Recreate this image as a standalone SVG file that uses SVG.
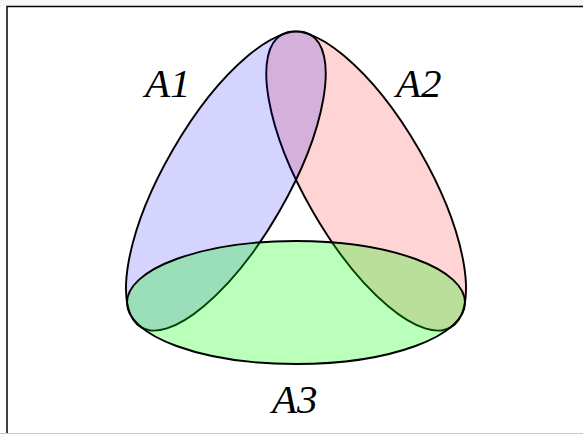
<svg xmlns="http://www.w3.org/2000/svg" width="583" height="434" viewBox="0 0 583 434">
<style>
.set{stroke:#000;stroke-width:1.9}
.lbl{font-family:"Liberation Serif","Times New Roman",serif;font-style:italic;font-size:41px;fill:#000}
</style>
<rect x="0" y="0" width="583" height="434" fill="#fff"/>
<rect x="0" y="0" width="583" height="6" fill="#f6f6f6"/>
<path d="M7,434 V6.5 H583" fill="none" stroke="#000" stroke-width="1.5"/>
<line x1="0" y1="433.5" x2="583" y2="433.5" stroke="#c8c8c8" stroke-width="1"/>
<g id="A2">
<ellipse class="set" cx="296" cy="302.5" rx="169" ry="61.5" transform="rotate(-120 296 221.5)" fill="rgb(255,0,0)" fill-opacity="0.17"/>
<text class="lbl" x="396" y="97">A2</text>
</g>
<g id="A1">
<ellipse class="set" cx="296" cy="302.5" rx="169" ry="61.5" transform="rotate(120 296 221.5)" fill="rgb(0,0,255)" fill-opacity="0.17"/>
<text class="lbl" x="145" y="97">A1</text>
</g>
<g id="A3">
<ellipse class="set" cx="296" cy="302.5" rx="169" ry="61.5" fill="rgb(0,255,0)" fill-opacity="0.27"/>
<text class="lbl" x="272" y="413">A3</text>
</g>
<g id="connectors"/>
</svg>
